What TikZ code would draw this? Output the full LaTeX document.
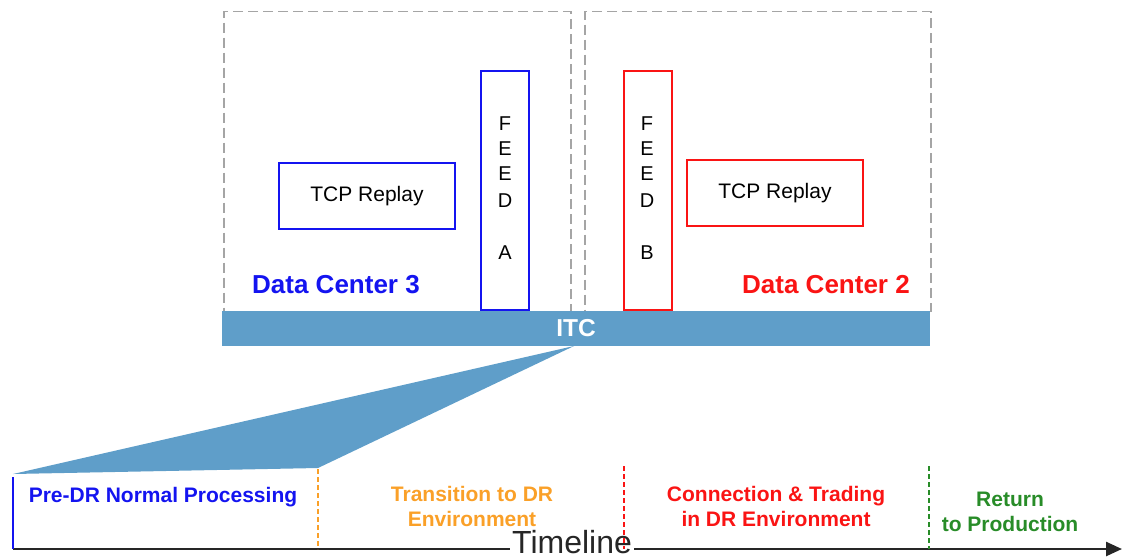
\documentclass[tikz,border=0pt]{standalone}
\usepackage{fontspec}
\setmainfont{Liberation Sans}
\usetikzlibrary{arrows.meta}
\definecolor{itcblue}{RGB}{95,158,201}
\definecolor{dcgray}{RGB}{165,165,165}
\definecolor{pblue}{RGB}{20,20,240}
\definecolor{pred}{RGB}{250,20,20}
\definecolor{porange}{RGB}{250,160,40}
\definecolor{pgreen}{RGB}{40,140,40}
\begin{document}
\begin{tikzpicture}[x=1pt,y=-1pt,
  dcbox/.style={draw=dcgray,line width=1.5pt,dash pattern=on 10pt off 5pt,inner sep=0pt},
  tcpbox/.style={draw,line width=2.8pt,fill=white,minimum width=176pt,minimum height=66pt,inner sep=0pt,font=\fontsize{21}{25}\selectfont},
  feedbox/.style={draw,line width=2.8pt,fill=white,minimum width=48pt,minimum height=239pt,inner sep=0pt},
  letter/.style={font=\fontsize{20}{24}\selectfont,inner sep=0pt},
  dclabel/.style={font=\bfseries\fontsize{26}{30}\selectfont,inner sep=0pt},
  phase/.style={font=\bfseries\fontsize{21}{25}\selectfont,align=center,inner sep=0pt},
  tick/.style={line width=2pt,dash pattern=on 5pt off 3pt}
]
\useasboundingbox (0,0) rectangle (1124,558);
% data center boxes
\node[dcbox,minimum width=347pt,minimum height=300pt] (dc3) at (397.5,161.5) {};
\node[dcbox,minimum width=346pt,minimum height=300pt] (dc2) at (758,161.5) {};
% ITC bar
\node[fill=itcblue,minimum width=708pt,minimum height=35pt,inner sep=0pt,text=white,font=\bfseries\fontsize{24.5}{28}\selectfont] (itc) at (576,328.5) {ITC};
% feeds
\node[feedbox,draw=pblue] (feeda) at (505,190.5) {};
\node[feedbox,draw=pred] (feedb) at (648,190.5) {};
\foreach \l/\yy [count=\i] in {F/124,E/149,E/174,D/201,A/253}
  \node[letter] (fa\i) at (505,\yy) {\l};
\foreach \l/\yy [count=\i] in {F/124,E/149,E/174,D/201,B/253}
  \node[letter] (fb\i) at (647,\yy) {\l};
% TCP replay boxes
\node[tcpbox,draw=pblue] (tcp3) at (367,196) {TCP Replay};
\node[tcpbox,draw=pred] (tcp2) at (775,193) {TCP Replay};
% labels
\node[dclabel,text=pblue] (lab3) at (336,285) {Data Center 3};
\node[dclabel,text=pred] (lab2) at (826,285) {Data Center 2};
% zoom wedge
\coordinate (apex) at (574,346);
\coordinate (wl) at (13,474);
\coordinate (wr) at (318,468);
\fill[itcblue] (apex) -- (wl) -- (wr) -- cycle;
% timeline
\coordinate (t0) at (13,549);
\coordinate (t1) at (1122,549);
\draw[line width=2.5pt,black!85,-{Triangle[length=16pt,width=14pt]}] (t0) -- (t1);
\node[fill=white,inner xsep=2pt,inner ysep=0pt,anchor=base,font=\fontsize{32}{36}\selectfont,text=black!85] (tl) at (572,553) {Timeline};
% phase ticks
\coordinate (v0) at (13,477);
\coordinate (v1a) at (318,469);
\coordinate (v1b) at (318,549);
\coordinate (v2a) at (624,466);
\coordinate (v2b) at (624,549);
\coordinate (v3a) at (929,466);
\coordinate (v3b) at (929,549);
\draw[pblue,line width=2.5pt] (v0) -- (t0);
\draw[tick,porange] (v1a) -- (v1b);
\draw[tick,pred] (v2a) -- (v2b);
\draw[tick,pgreen] (v3a) -- (v3b);
% phase labels
\node[phase,text=pblue] (p1) at (163,497) {Pre-DR Normal Processing};
\node[phase,text=porange] (p2) at (472,506) {Transition to DR\\Environment};
\node[phase,text=pred] (p3) at (776,506) {Connection \& Trading\\in DR Environment};
\node[phase,text=pgreen] (p4) at (1010,512) {Return\\to Production};
\end{tikzpicture}
\end{document}
